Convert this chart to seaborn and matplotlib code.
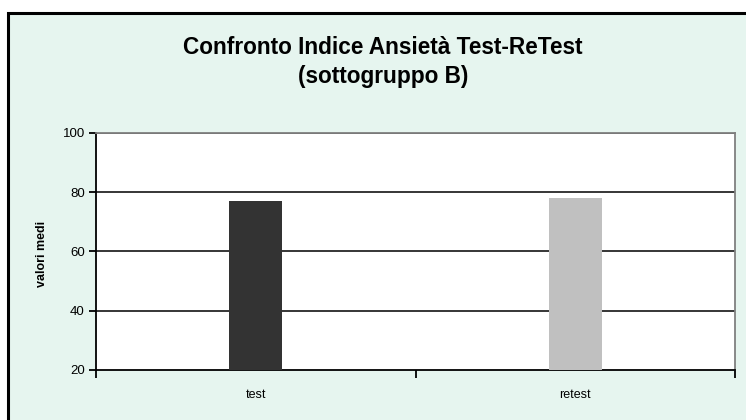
import pandas as pd
import matplotlib
matplotlib.use('Agg')
import matplotlib.pyplot as plt
import seaborn as sns
from matplotlib.patches import Rectangle

# Data
categories = ['test', 'retest']
values = [77.2, 77.9]
bar_colors = ['#333333', '#C0C0C0']
y_ticks = [20, 40, 60, 80, 100]

df = pd.DataFrame({'fase': categories, 'valore': values})

sns.set_style('white')
plt.rcParams['font.family'] = ['Liberation Sans', 'DejaVu Sans']
plt.rcParams['text.color'] = 'black'
plt.rcParams['xtick.color'] = 'black'
plt.rcParams['ytick.color'] = 'black'

fig = plt.figure(figsize=(7.46, 4.2), dpi=100)
fig.patch.set_facecolor('white')

# outer chart frame (mint background)
frame = Rectangle((8 / 746, -0.05), 1.05, 1 - 12.5 / 420 + 0.05,
                  transform=fig.transFigure, facecolor='#E6F5EF',
                  edgecolor='black', linewidth=2.2, zorder=-5)
fig.patches.append(frame)

ax = fig.add_axes([96 / 746, 1 - 370 / 420, (735 - 96) / 746, (370 - 133) / 420])
ax.set_zorder(2)
ax.set_facecolor('white')

sns.barplot(data=df, x='fase', y='valore', hue='fase', palette=bar_colors,
            width=0.166, legend=False, ax=ax, saturation=1, zorder=3,
            linewidth=0, edgecolor='none')

ax.set_ylim(20, 100)
ax.set_xlim(-0.5, 1.5)
ax.set_yticks(y_ticks)
ax.set_yticklabels([str(v) for v in y_ticks], fontsize=9.5)
ax.set_xticks([0, 1])
ax.set_xticklabels(categories, fontsize=9)
ax.tick_params(axis='x', which='major', bottom=True, length=0, pad=14)
# category boundary tick marks
ax.set_xticks([-0.5, 0.5, 1.5], minor=True)
ax.tick_params(axis='x', which='minor', bottom=True, length=6, width=1.3,
               color='black', direction='out')
ax.tick_params(axis='y', left=True, length=5, width=1.3, color='black',
               direction='out', pad=3)

for v in y_ticks[1:]:
    ax.axhline(v, color='black', linewidth=1.1, zorder=1)

for side in ['left', 'bottom']:
    ax.spines[side].set_color('black')
    ax.spines[side].set_linewidth(1.3)
for side in ['top', 'right']:
    ax.spines[side].set_color('#808080')
    ax.spines[side].set_linewidth(1.3)

ax.set_xlabel('')
ax.set_ylabel('')

fig.text(383 / 746, 1 - 47 / 420, 'Confronto Indice Ansietà Test-ReTest',
         ha='center', va='center', fontsize=16.3, fontweight='bold')
fig.text(383 / 746, 1 - 76 / 420, '(sottogruppo B)',
         ha='center', va='center', fontsize=16.3, fontweight='bold')
fig.text(42 / 746, 1 - 254 / 420, 'valori medi', rotation=90,
         ha='center', va='center', fontsize=9, fontweight='bold')

fig.savefig('out.png', dpi=100)
